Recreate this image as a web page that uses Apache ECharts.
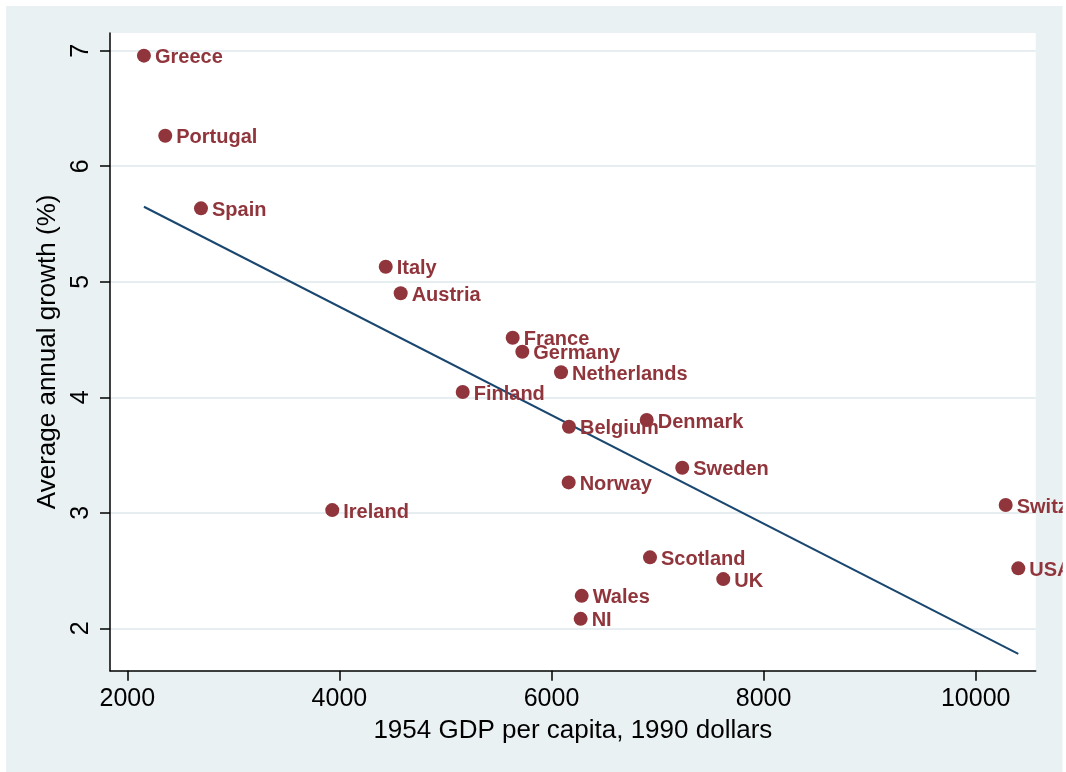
<!DOCTYPE html>
<html>
<head>
<meta charset="utf-8">
<script src="https://cdn.jsdelivr.net/npm/echarts@6/dist/echarts.min.js"></script>
<style>
html,body{margin:0;padding:0;background:#fff;}
#chart{width:1066px;height:772px;}
</style>
</head>
<body>
<div id="chart"></div>
<script>
const countries = ['Greece','Portugal','Spain','Italy','Austria','France','Germany','Netherlands','Finland','Belgium','Denmark','Sweden','Norway','Ireland','Scotland','UK','Wales','NI','Switzerland','USA'];
const gdp1954 = [2157,2358,2695,4437,4578,5634,5725,6090,5163,6165,6898,7233,6162,3933,6929,7620,6285,6275,10283,10402];
const growth = [6.957,6.264,5.635,5.13,4.90,4.515,4.394,4.216,4.045,3.745,3.803,3.39,3.263,3.023,2.614,2.426,2.281,2.082,3.067,2.519];
const fitX = [2157,10402];
const fitY = [5.649,1.779];
const xTicks = [2000,4000,6000,8000,10000];
const yTicks = [2,3,4,5,6,7];

const maroon = '#90353b';
const navy = '#1a476f';
const bg = '#eaf1f3';
const font = 'Liberation Sans, Arial, Helvetica, sans-serif';

const chart = echarts.init(document.getElementById('chart'), null, {renderer:'canvas'});
chart.setOption({
  animation:false,
  backgroundColor:'#ffffff',
  graphic:[
    {type:'rect', shape:{x:6,y:6,width:1056.7,height:766}, style:{fill:bg}, silent:true, z:-10},
    {type:'rect', zlevel:1, shape:{x:1062.7,y:0,width:10,height:772}, style:{fill:'#ffffff'}, silent:true}
  ],
  grid:{left:110, top:33, right:30.3, bottom:101.3, show:true, backgroundColor:'#ffffff', borderWidth:0},
  xAxis:{
    type:'value', min:1837, max:10566,
    name:'1954 GDP per capita, 1990 dollars', nameLocation:'middle', nameGap:47,
    nameTextStyle:{fontFamily:font, fontSize:26, color:'#000'},
    axisLine:{show:true, onZero:false, lineStyle:{color:'#000', width:1.5}},
    axisTick:{show:true, length:10, customValues:xTicks, lineStyle:{color:'#000', width:1.5}},
    axisLabel:{customValues:xTicks, formatter:v=>String(v), fontFamily:font, fontSize:25, color:'#000', margin:16},
    splitLine:{show:false}
  },
  yAxis:{
    type:'value', min:1.633, max:7.153,
    name:'Average annual growth (%)', nameLocation:'middle', nameGap:38,
    nameTextStyle:{fontFamily:font, fontSize:26, color:'#000'},
    axisLine:{show:true, onZero:false, lineStyle:{color:'#000', width:1.5}},
    axisTick:{show:true, length:10, customValues:yTicks, lineStyle:{color:'#000', width:1.5}},
    axisLabel:{customValues:yTicks, formatter:v=>String(v), rotate:90, fontFamily:font, fontSize:25, color:'#000', margin:16},
    splitLine:{show:true, lineStyle:{color:'#e6eef1', width:2}}
  },
  series:[
    {
      type:'scatter',
      data:gdp1954.map((g,i)=>({value:[g,growth[i]], name:countries[i]})),
      symbol:'circle', symbolSize:14,
      itemStyle:{color:maroon, opacity:1},
      clip:false,
      label:{show:true, position:'right', distance:4, offset:[0,2], formatter:p=>p.name,
        fontFamily:font, fontSize:20, fontWeight:'bold', color:maroon},
      z:3
    },
    {
      type:'line',
      data:fitX.map((x,i)=>[x,fitY[i]]),
      symbol:'none',
      lineStyle:{color:navy, width:2},
      z:2
    }
  ]
});
</script>
</body>
</html>
